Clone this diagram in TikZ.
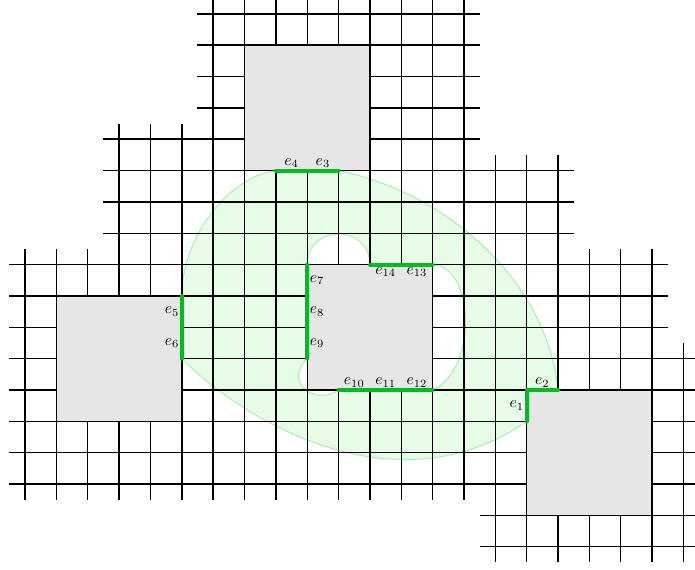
\documentclass[tikz,border=0pt]{standalone}
\definecolor{edgegreen}{HTML}{00BB22}
\definecolor{regionfill}{HTML}{E6FCE6}
\definecolor{regionline}{HTML}{A8ECB0}
\definecolor{squaregray}{HTML}{E6E6E6}

\begin{document}
\begin{tikzpicture}[
  x=0.7cm, y=0.7cm,
  gridline/.style={line width=0.9pt, draw=black},
  square/.style={fill=squaregray, draw=black, line width=0.9pt},
  region/.style={fill=regionfill, draw=regionline, line width=0.6pt, even odd rule},
  edge/.style={line width=2.5pt, draw=edgegreen, line cap=round, line join=round},
  elabel/.style={inner sep=1.5pt}
]
\clip (-0.8,0.44) rectangle (21.37,-17.74);

\path[region] (8,-5) .. controls (6.5,-5.2) and (5,-7.1) .. (5,-9) -- (5,-11)
  .. controls (7.2,-13.2) and (12,-15.8) .. (16,-13) -- (16,-12) -- (17,-12)
  .. controls (16.7,-8.8) and (13.8,-5.8) .. (10,-5) -- cycle
  (9,-8) .. controls (9,-6.7) and (11,-6.7) .. (11,-8) -- (13,-8)
  .. controls (14.4,-8.1) and (14.4,-11.4) .. (13,-12) -- (10,-12)
  .. controls (9.3,-12.5) and (8.2,-11.8) .. (9,-11) -- cycle;

\foreach \a/\b/\first/\last in {5.5/14.5/0/3, 2.5/14.5/4/4, 2.5/17.5/5/7,
    -0.5/20.5/8/10, -0.5/21.5/11/15, 14.5/21.5/16/17}
  \foreach \j in {\first,...,\last}
    \draw[gridline] (\a,-\j) -- (\b,-\j);
\foreach \a/\b/\first/\last in {-7.5/-15.5/0/2, -3.5/-15.5/3/5, 0.5/-15.5/6/14,
    -4.5/-17.5/15/17, -7.5/-17.5/18/20, -10.5/-17.5/21/21}
  \foreach \i in {\first,...,\last}
    \draw[gridline] (\i,\a) -- (\i,\b);

\draw[square] (7,-1) rectangle (11,-5);
\draw[square] (1,-9) rectangle (5,-13);
\draw[square] (9,-8) rectangle (13,-12);
\draw[square] (16,-12) rectangle (20,-16);

\draw[edge] (8,-5) -- (10,-5);
\draw[edge] (5,-9) -- (5,-11);
\draw[edge] (9,-8) -- (9,-11);
\draw[edge] (11,-8) -- (13,-8);
\draw[edge] (10,-12) -- (13,-12);
\draw[edge] (16,-13) -- (16,-12) -- (17,-12);

\node[elabel, left] (lbl1) at (16,-12.5) {$e_{1}$};
\node[elabel, above] (lbl2) at (16.5,-12) {$e_{2}$};
\node[elabel, above] (lbl3) at (9.5,-5) {$e_{3}$};
\node[elabel, above] (lbl4) at (8.5,-5) {$e_{4}$};
\node[elabel, left] (lbl5) at (5,-9.5) {$e_{5}$};
\node[elabel, left] (lbl6) at (5,-10.5) {$e_{6}$};
\node[elabel, right] (lbl7) at (9,-8.5) {$e_{7}$};
\node[elabel, right] (lbl8) at (9,-9.5) {$e_{8}$};
\node[elabel, right] (lbl9) at (9,-10.5) {$e_{9}$};
\node[elabel, above] (lbl10) at (10.5,-12) {$e_{10}$};
\node[elabel, above] (lbl11) at (11.5,-12) {$e_{11}$};
\node[elabel, above] (lbl12) at (12.5,-12) {$e_{12}$};
\node[elabel, below] (lbl13) at (12.5,-8) {$e_{13}$};
\node[elabel, below] (lbl14) at (11.5,-8) {$e_{14}$};
\end{tikzpicture}
\end{document}
